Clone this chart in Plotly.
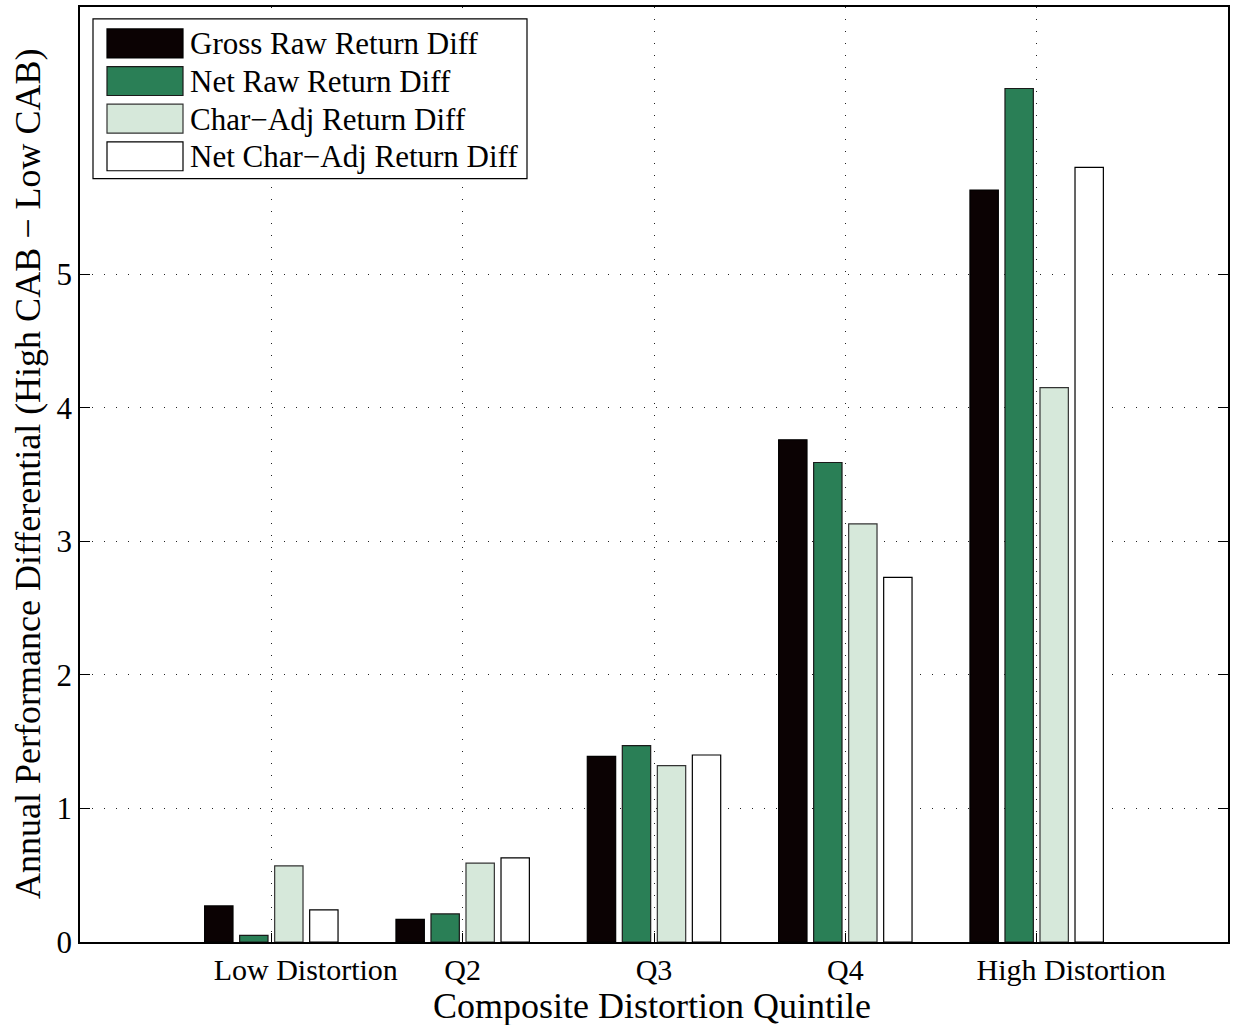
import plotly.graph_objects as go

categories = ["Low Distortion", "Q2", "Q3", "Q4", "High Distortion"]
series_names = ["Gross Raw Return Diff", "Net Raw Return Diff",
                "Char\u2212Adj Return Diff", "Net Char\u2212Adj Return Diff"]
gross_raw = [0.27, 0.17, 1.39, 3.76, 5.63]
net_raw = [0.05, 0.21, 1.47, 3.59, 6.39]
char_adj = [0.57, 0.59, 1.32, 3.13, 4.15]
net_char_adj = [0.24, 0.63, 1.40, 2.73, 5.80]
y_ticks = [0, 1, 2, 3, 4, 5]

series_values = [gross_raw, net_raw, char_adj, net_char_adj]
colors = ["#0b0203", "#2a7f56", "#d6e8da", "#ffffff"]
line_colors = ["#000000", "#1a1a1a", "#333333", "#000000"]

FONT = "Liberation Serif"
W, H = 1235, 1025
L, R, T, B = 80, 7, 5, 83
pw, ph = W - L - R, H - T - B

xpos = list(range(1, len(categories) + 1))
# label centers (the outer labels sit slightly right of their tick)
label_shift = [0.18, 0, 0, 0, 0.18]
label_pos = [p + s for p, s in zip(xpos, label_shift)]

fig = go.Figure()
for name, vals, c, lc in zip(series_names, series_values, colors, line_colors):
    fig.add_trace(go.Bar(x=xpos, y=vals, name=name, marker_color=c,
                         marker_line_color=lc, marker_line_width=1.2,
                         showlegend=False))


def px_x(px):
    return (px - L) / pw


def px_y(py):
    return (H - B - py) / ph


shapes = []
annotations = []
# legend box
shapes.append(dict(type="rect", xref="paper", yref="paper",
                   x0=px_x(93), x1=px_x(527), y0=px_y(177), y1=px_y(17),
                   line=dict(color="black", width=1.2), fillcolor="white", layer="above"))
for i, (name, c, lc) in enumerate(zip(series_names, colors, line_colors)):
    top = 27 + i * 37.7
    shapes.append(dict(type="rect", xref="paper", yref="paper",
                       x0=px_x(107), x1=px_x(183), y0=px_y(top + 29), y1=px_y(top),
                       line=dict(color=lc, width=1.2), fillcolor=c, layer="above"))
    annotations.append(dict(text=name, xref="paper", yref="paper",
                            x=px_x(188), y=px_y(top + 15), xanchor="left", yanchor="middle",
                            showarrow=False, font=dict(family=FONT, size=31, color="black")))

annotations.append(dict(text="Annual Performance Differential (High CAB \u2212 Low CAB)",
                        xref="paper", yref="paper", x=px_x(28), y=px_y(473),
                        xanchor="center", yanchor="middle", textangle=-90, showarrow=False,
                        font=dict(family=FONT, size=36, color="black")))
annotations.append(dict(text="Composite Distortion Quintile",
                        xref="paper", yref="paper", x=px_x(652), y=px_y(1006),
                        xanchor="center", yanchor="middle", showarrow=False,
                        font=dict(family=FONT, size=36, color="black")))

GRIDDASH = "1px,11px"
fig.update_layout(
    width=W, height=H,
    margin=dict(l=L, r=R, t=T, b=B, pad=0),
    paper_bgcolor="white", plot_bgcolor="white",
    barmode="group", bargap=0.268, bargroupgap=0.19,
    font=dict(family=FONT, size=31, color="black"),
    shapes=shapes, annotations=annotations,
    showlegend=False,
)
fig.update_xaxes(
    range=[0, 6], tickmode="array", tickvals=label_pos, ticktext=categories,
    ticks="", showgrid=False, zeroline=False,
    showline=True, linecolor="black", linewidth=1.5, mirror=True,
    tickfont=dict(family=FONT, size=30, color="black"),
    minor=dict(tickmode="array", tickvals=xpos, ticks="inside", ticklen=9,
               tickcolor="black", showgrid=True, gridcolor="#222222",
               griddash=GRIDDASH, gridwidth=1),
)
fig.update_yaxes(
    range=[0, 7], tickmode="array", tickvals=y_ticks, ticktext=[str(v) for v in y_ticks],
    ticks="inside", ticklen=10, tickcolor="black", zeroline=False,
    showgrid=True, gridcolor="#222222", griddash=GRIDDASH, gridwidth=1,
    showline=True, linecolor="black", linewidth=1.5, mirror="ticks",
    tickfont=dict(family=FONT, size=31, color="black"),
)

fig.write_html("out.html", config={"displayModeBar": False},
               post_script="document.body.style.margin='0px';")
